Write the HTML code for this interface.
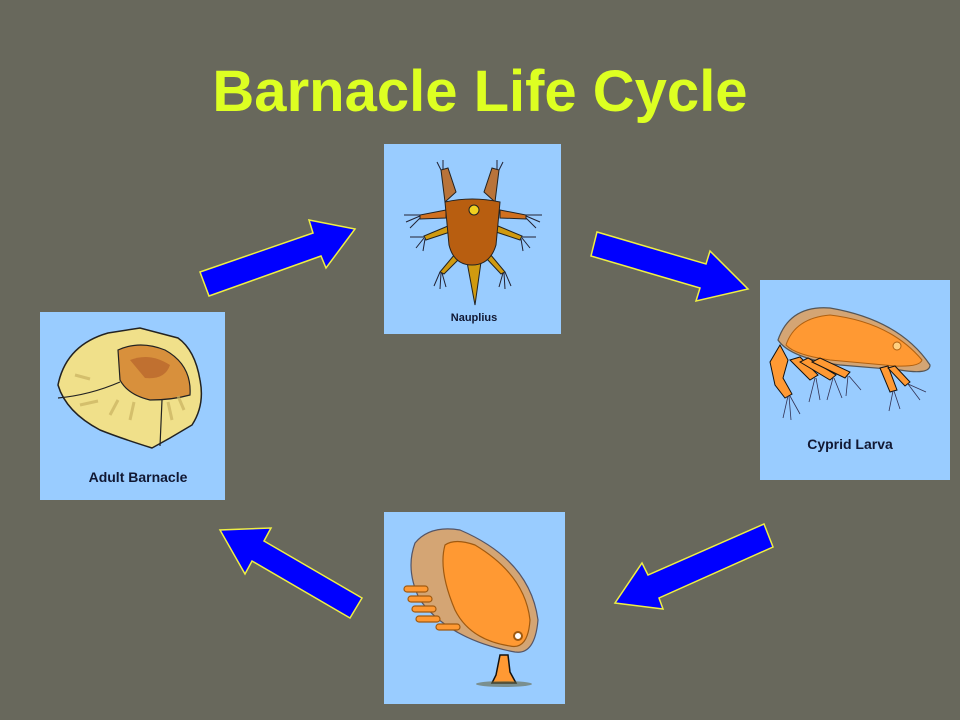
<!DOCTYPE html>
<html><head><meta charset="utf-8"><style>
html,body{margin:0;padding:0;background:#68685c;}
body{width:960px;height:720px;overflow:hidden;position:relative;font-family:"Liberation Sans",Arial,sans-serif;}
.t{position:absolute;left:0;width:960px;top:60px;text-align:center;color:#ddff22;font-weight:bold;font-size:58px;line-height:64px;}
</style></head><body>
<div class="t">Barnacle Life Cycle</div>
<svg width="960" height="720" style="position:absolute;left:0;top:0">
<g stroke="#eeee44" stroke-width="1.5" fill="#0000ff" stroke-linejoin="miter">
<polygon points="200,272 313,233 309,220 355,229 326,268 321,256 209,296"/>
<polygon points="597,232 706,264 710,251 748,289 696,301 700,288 591,256"/>
<polygon points="764,524 773,547 659,598 663,609 615,603 642,563 648,575"/>
<polygon points="362,598 350,618 252,561 245,574 220,530 271,528 264,541"/>
</g>
<rect x="384" y="144" width="177" height="190" fill="#99ccff"/>
<rect x="760" y="280" width="190" height="200" fill="#99ccff"/>
<rect x="40" y="312" width="185" height="188" fill="#99ccff"/>
<rect x="384" y="512" width="181" height="192" fill="#99ccff"/>

<g stroke="#222" stroke-width="1">
<polygon points="445,202 456,192 448,168 441,170" fill="#b8733a"/>
<polygon points="495,202 484,192 492,168 499,170" fill="#b8733a"/>
<polygon points="446,210 420,215 420,219 446,218" fill="#d07020"/>
<polygon points="500,210 526,215 526,219 500,218" fill="#d07020"/>
<polygon points="448,226 424,236 426,240 450,232" fill="#d09a10"/>
<polygon points="498,226 522,236 520,240 496,232" fill="#d09a10"/>
<polygon points="455,254 440,272 444,274 460,258" fill="#d09a10"/>
<polygon points="490,254 505,272 501,274 486,258" fill="#d09a10"/>
<polygon points="467,262 475,305 481,262" fill="#d09a10"/>
<path d="M445,202 Q472,196 500,202 L496,245 Q490,265 472,265 Q454,265 449,245 Z" fill="#b85e10"/>
<circle cx="474" cy="210" r="5" fill="#f0d020"/>
</g>
<g stroke="#223" stroke-width="1" fill="none">
<path d="M441,170 l-4,-8 M443,169 l0,-9 M499,170 l4,-8 M497,169 l0,-9 M420,215 l-16,0 M420,216 l-14,6 M420,218 l-10,10 M526,215 l16,0 M526,216 l14,6 M526,218 l10,10 M424,237 l-14,0 M424,238 l-8,10 M425,239 l-2,12 M522,237 l14,0 M522,238 l8,10 M521,239 l2,12 M440,272 l-6,14 M441,273 l-1,16 M442,273 l4,14 M505,272 l6,14 M504,273 l1,16 M503,273 l-4,14"/>
</g>
<text x="474" y="321" text-anchor="middle" font-size="11" font-weight="bold" fill="#111833">Nauplius</text>

<path d="M778,340 Q790,305 830,308 Q900,320 930,365 Q930,375 900,370 L840,365 Q790,358 778,340 Z" fill="#d4a574" stroke="#555" stroke-width="1.2"/>
<path d="M786,345 Q795,318 830,315 Q890,322 922,360 Q920,367 895,366 L830,360 Q795,355 786,345 Z" fill="#ff9933" stroke="#b06010" stroke-width="1"/>
<circle cx="897" cy="346" r="4" fill="#ffd080" stroke="#b06010"/>
<g stroke="#111" stroke-width="1" fill="#ff9933">
<path d="M780,345 L770,362 L775,385 L785,398 L792,394 L783,378 L788,360 Z"/>
<path d="M790,360 L810,380 L818,375 L800,357 Z"/>
<path d="M800,362 L830,380 L836,375 L808,358 Z"/>
<path d="M812,362 L845,378 L850,372 L820,358 Z"/>
<path d="M880,368 L890,392 L897,390 L888,366 Z"/>
<path d="M888,368 L905,386 L910,382 L895,366 Z"/>
</g>
<g stroke="#335" stroke-width="0.8" fill="none">
<path d="M788,396 l-5,22 M789,396 l2,24 M790,396 l10,18 M815,378 l-6,24 M816,378 l4,22 M833,378 l-6,22 M834,378 l8,20 M848,376 l-2,20 M849,376 l12,14 M893,391 l-4,20 M894,391 l6,18 M908,384 l18,8 M908,384 l12,16"/>
</g>
<text x="850" y="449" text-anchor="middle" font-size="14" font-weight="bold" fill="#111833">Cyprid Larva</text>

<path d="M415,543 Q430,525 460,530 Q530,560 538,620 Q535,655 515,652 Q450,640 420,600 Q405,570 415,543 Z" fill="#d4a574" stroke="#556" stroke-width="1.2"/>
<path d="M445,545 Q455,538 475,545 Q525,575 530,620 Q528,650 510,646 Q470,640 455,610 Q438,570 445,545 Z" fill="#ff9933" stroke="#a05a10" stroke-width="1.2"/>
<g fill="#ff9933" stroke="#a05a10" stroke-width="1.2">
<rect x="404" y="586" width="24" height="6" rx="3"/>
<rect x="408" y="596" width="24" height="6" rx="3"/>
<rect x="412" y="606" width="24" height="6" rx="3"/>
<rect x="416" y="616" width="24" height="6" rx="3"/>
<rect x="436" y="624" width="24" height="6" rx="3"/>
</g>
<circle cx="518" cy="636" r="4" fill="#fff" stroke="#a05a10" stroke-width="2"/>
<path d="M500,655 L496,675 L492,683 L516,683 L510,672 L508,655 Z" fill="#ff9933" stroke="#111" stroke-width="1.5"/>
<ellipse cx="504" cy="684" rx="28" ry="3" fill="#664" opacity="0.6"/>

<path d="M58,385 Q66,345 108,333 L140,328 L178,338 Q195,350 200,380 Q205,405 192,425 L170,438 L152,448 Q120,438 100,430 Q66,412 58,385 Z" fill="#f0e08a" stroke="#222" stroke-width="1.5"/>
<path d="M118,350 Q140,340 165,350 Q192,365 190,395 Q172,400 150,400 Q128,395 120,380 Z" fill="#d8903c" stroke="#222" stroke-width="1.2"/>
<path d="M130,360 Q150,352 170,365 Q165,380 145,378 Z" fill="#c07030"/>
<path d="M58,398 Q90,395 120,382 M162,400 L160,446" stroke="#222" stroke-width="1.2" fill="none"/>
<g stroke="#c8b060" stroke-width="3" fill="none" opacity="0.7">
<path d="M75,375 l15,4 M80,405 l18,-4 M110,415 l8,-15 M130,420 l4,-18 M172,420 l-4,-18 M184,410 l-6,-14"/>
</g>
<text x="138" y="482" text-anchor="middle" font-size="14" font-weight="bold" fill="#111833">Adult Barnacle</text>
</svg>
</body></html>
